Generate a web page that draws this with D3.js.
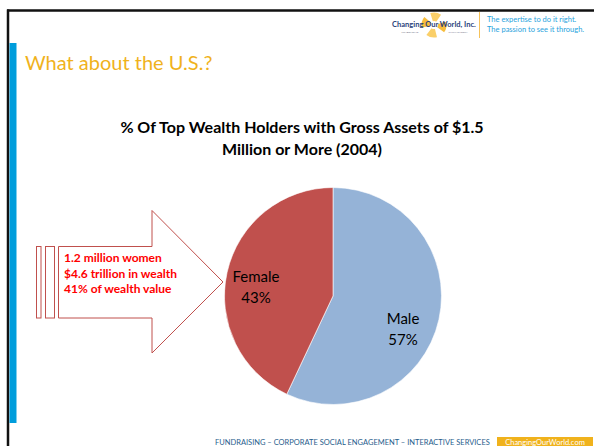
<!DOCTYPE html>
<html>
<head>
<meta charset="utf-8">
<script src="https://cdn.jsdelivr.net/npm/d3@7"></script>
<style>
  html, body { margin: 0; padding: 0; background: #fff; }
  svg { display: block; font-family: Lato, "Open Sans", sans-serif; }
</style>
</head>
<body>
<div id="chart-container"></div>
<script>
// chart data
const categories = ['Male', 'Female'];
const shares = [57, 43];
const sliceColors = ['#95b3d7', '#c0504d'];
const chartTitle = ['% Of Top Wealth Holders with Gross Assets of $1.5', 'Million or More (2004)'];
const calloutLines = ['1.2 million women', '$4.6 trillion in wealth', '41% of wealth value'];
const slideTitle = 'What about the U.S.?';
const taglines = ['The expertise to do it right.', 'The passion to see it through.'];
const footerText = 'FUNDRAISING  –  CORPORATE SOCIAL ENGAGEMENT  –  INTERACTIVE SERVICES';

const width = 594, height = 446;
const svg = d3.select('#chart-container').append('svg')
    .attr('width', width)
    .attr('height', height);

// slide frame
svg.append('rect').attr('x', 0).attr('y', 0).attr('width', width).attr('height', height).attr('fill', '#fff');
svg.append('line').attr('x1', 7).attr('x2', width).attr('y1', 10.5).attr('y2', 10.5)
    .attr('stroke', '#111').attr('stroke-width', 2.5);
svg.append('line').attr('x1', 8).attr('x2', 8).attr('y1', 9.5).attr('y2', height)
    .attr('stroke', '#111').attr('stroke-width', 2.5);
svg.append('rect').attr('x', 9.5).attr('y', 43).attr('width', 7).attr('height', 380).attr('fill', '#009ddc');

// header logo (rough)
const logo = svg.append('g').attr('transform', 'translate(434,25)');
const petal = d3.arc().innerRadius(4).outerRadius(12.5);
[[-0.3, 0.6], [1.3, 2.2], [2.9, 3.8], [4.5, 5.4]].forEach(([a0, a1], i) => {
    logo.append('path')
        .attr('d', petal({ startAngle: a0, endAngle: a1 }))
        .attr('fill', i % 2 ? '#f6b21a' : '#f9c74f')
        .attr('opacity', 0.85);
});
logo.append('text').attr('x', 0).attr('y', 1.5).attr('text-anchor', 'middle')
    .style('font-size', '7.5px').style('font-weight', 700).style('fill', '#2a3f7a')
    .text('Changing Our World, Inc.');
logo.append('text').attr('x', -24).attr('y', 8).attr('text-anchor', 'middle')
    .style('font-size', '2.5px').style('fill', '#667').text('FUNDRAISING');
logo.append('text').attr('x', 24).attr('y', 8).attr('text-anchor', 'middle')
    .style('font-size', '2.5px').style('fill', '#667').text('PHILANTHROPY');
svg.append('line').attr('x1', 479.5).attr('x2', 479.5).attr('y1', 12).attr('y2', 38)
    .attr('stroke', '#f6c25a').attr('stroke-width', 1);
taglines.forEach((t, i) => {
    svg.append('text').attr('x', 487).attr('y', 22 + i * 10)
        .style('font-size', '7.5px').style('fill', '#29a3dd').text(t);
});

// slide title
svg.append('text').attr('x', 25).attr('y', 70)
    .style('font-size', '20px').style('fill', '#f0b21c').text(slideTitle);

// chart title
chartTitle.forEach((t, i) => {
    svg.append('text').attr('x', 302).attr('y', 133 + i * 22).attr('text-anchor', 'middle')
        .style('font-size', '16px').style('font-weight', 700).style('fill', '#000').text(t);
});

// pie
const cx = 333, cy = 296, radius = 108.5;
const pie = d3.pie().sort(null).value(d => d.value);
const arc = d3.arc().innerRadius(0).outerRadius(radius);
const pieData = pie(categories.map((c, i) => ({ name: c, value: shares[i], color: sliceColors[i] })));
const pg = svg.append('g').attr('transform', `translate(${cx},${cy})`);
pg.selectAll('path.slice').data(pieData).enter().append('path')
    .attr('class', 'slice')
    .attr('d', arc)
    .attr('fill', d => d.data.color)
    .attr('stroke', '#fff').attr('stroke-width', 0.6);

const labelPos = {
    Male: [70, 32],
    Female: [-77, -10]
};
pieData.forEach(d => {
    const [lx, ly] = labelPos[d.data.name];
    const t = pg.append('text').attr('text-anchor', 'middle')
        .style('font-size', '15px').style('fill', '#000');
    t.append('tspan').attr('x', lx).attr('y', ly - 4).text(d.data.name);
    t.append('tspan').attr('x', lx).attr('y', ly + 17).text(d.data.value + '%');
});

// callout arrow
const arrowStroke = '#c0504d';
svg.append('rect').attr('x', 36.5).attr('y', 246.5).attr('width', 4.5).attr('height', 71.5)
    .attr('fill', '#fff').attr('stroke', arrowStroke).attr('stroke-width', 1);
svg.append('rect').attr('x', 45.5).attr('y', 246.5).attr('width', 9).attr('height', 71.5)
    .attr('fill', '#fff').attr('stroke', arrowStroke).attr('stroke-width', 1);
const arrowPts = [[58.5, 246.5], [152, 246.5], [152, 210.5], [223, 282], [152, 353], [152, 318], [58.5, 318]];
svg.append('path').attr('d', d3.line()(arrowPts) + 'Z')
    .attr('fill', '#fff').attr('stroke', arrowStroke).attr('stroke-width', 1);
calloutLines.forEach((t, i) => {
    svg.append('text').attr('x', 64).attr('y', 262 + i * 15.5)
        .style('font-size', '12px').style('font-weight', 700).style('fill', '#ff0000').text(t);
});

// footer
svg.append('text').attr('x', 215).attr('y', 444.5)
    .style('font-size', '7.5px').style('fill', '#1f5d8c').text(footerText);
svg.append('rect').attr('x', 497).attr('y', 437).attr('width', 96).attr('height', 12).attr('fill', '#f0b21c');
svg.append('text').attr('x', 545).attr('y', 445).attr('text-anchor', 'middle')
    .style('font-size', '7.5px').style('fill', '#fff').text('ChangingOurWorld.com');
</script>
</body>
</html>
